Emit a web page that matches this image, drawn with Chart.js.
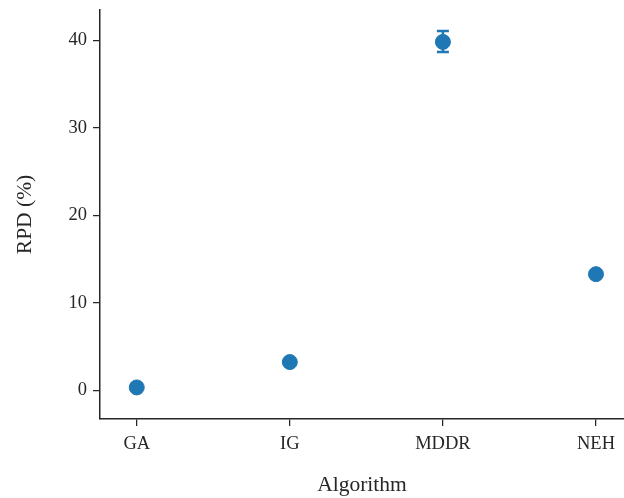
<!DOCTYPE html>
<html>
<head>
<meta charset="utf-8">
<script src="https://cdn.jsdelivr.net/npm/chart.js@4.4.1/dist/chart.umd.min.js"></script>
<style>
  html, body { margin: 0; padding: 0; background: #fff; }
  #wrap { width: 624px; height: 498px; }
</style>
</head>
<body>
<div id="wrap"><canvas id="rpdChart" width="624" height="498"></canvas></div>
<script>
const algorithms = ["GA", "IG", "MDDR", "NEH"];
const rpdMean = [0.35, 3.25, 39.85, 13.3];
const rpdLow = [0.35, 3.25, 38.7, 13.3];
const rpdHigh = [0.35, 3.25, 41.1, 13.3];
const yTicks = [0, 10, 20, 30, 40];

const axisColor = "#262626";
const pointColor = "#1f77b4";

// confidence interval whiskers, drawn through the chart's own scales
const errorBars = {
  id: "errorBars",
  afterDatasetsDraw(chart) {
    const { ctx, scales: { x, y } } = chart;
    ctx.save();
    ctx.strokeStyle = pointColor;
    ctx.lineWidth = 2.5;
    algorithms.forEach((name, i) => {
      if (rpdHigh[i] === rpdLow[i]) return;
      const px = x.getPixelForValue(i);
      const top = y.getPixelForValue(rpdHigh[i]);
      const bot = y.getPixelForValue(rpdLow[i]);
      ctx.beginPath();
      ctx.moveTo(px, top); ctx.lineTo(px, bot);
      ctx.moveTo(px - 6, top); ctx.lineTo(px + 6, top);
      ctx.moveTo(px - 6, bot); ctx.lineTo(px + 6, bot);
      ctx.stroke();
    });
    ctx.restore();
  }
};

// keep the plot box fixed: no extra room for overhanging tick labels
function noOverhang(s) {
  s.paddingLeft = 0;
  s.paddingRight = 0;
  s.paddingTop = 0;
  s.paddingBottom = 0;
}

const canvas = document.getElementById("rpdChart");
const chartInstance = new Chart(canvas, {
  type: "scatter",
  data: {
    datasets: [
      {
        label: "RPD",
        data: algorithms.map((a, i) => ({ x: i, y: rpdMean[i] })),
        backgroundColor: pointColor,
        borderColor: pointColor,
        pointRadius: 7.5,
        pointHoverRadius: 7.5
      }
    ]
  },
  options: {
    responsive: false,
    animation: false,
    layout: { autoPadding: false, padding: { top: 10, right: 0, left: 0, bottom: 0 } },
    plugins: { legend: { display: false }, tooltip: { enabled: false } },
    scales: {
      x: {
        type: "linear",
        min: -0.24,
        max: 3.183,
        afterBuildTicks: s => { s.ticks = algorithms.map((a, i) => ({ value: i })); },
        afterFit: s => { s.height = 79; noOverhang(s); },
        grid: { drawOnChartArea: false, drawTicks: true, tickLength: 7, color: axisColor, lineWidth: 1.25 },
        border: { display: true, color: axisColor, width: 1.5 },
        ticks: {
          callback: v => algorithms[v],
          color: axisColor,
          padding: 7,
          maxRotation: 0,
          autoSkip: false,
          font: { family: "Liberation Serif", size: 18.5 }
        },
        title: {
          display: true,
          text: "Algorithm",
          color: axisColor,
          padding: { top: 0, bottom: 0 },
          font: { family: "Liberation Serif", size: 21.5 }
        }
      },
      y: {
        min: -3.26,
        max: 43.5,
        afterBuildTicks: s => { s.ticks = yTicks.map(v => ({ value: v })); },
        afterFit: s => { s.width = 100; noOverhang(s); },
        grid: { drawOnChartArea: false, drawTicks: true, tickLength: 7, color: axisColor, lineWidth: 1.25 },
        border: { display: true, color: axisColor, width: 1.5 },
        ticks: {
          color: axisColor,
          padding: 6,
          font: { family: "Liberation Serif", size: 18.5 }
        },
        title: {
          display: true,
          text: "RPD (%)",
          color: axisColor,
          padding: { top: 12, bottom: 0 },
          font: { family: "Liberation Serif", size: 21.5 }
        }
      }
    }
  },
  plugins: [errorBars]
});
</script>
</body>
</html>
